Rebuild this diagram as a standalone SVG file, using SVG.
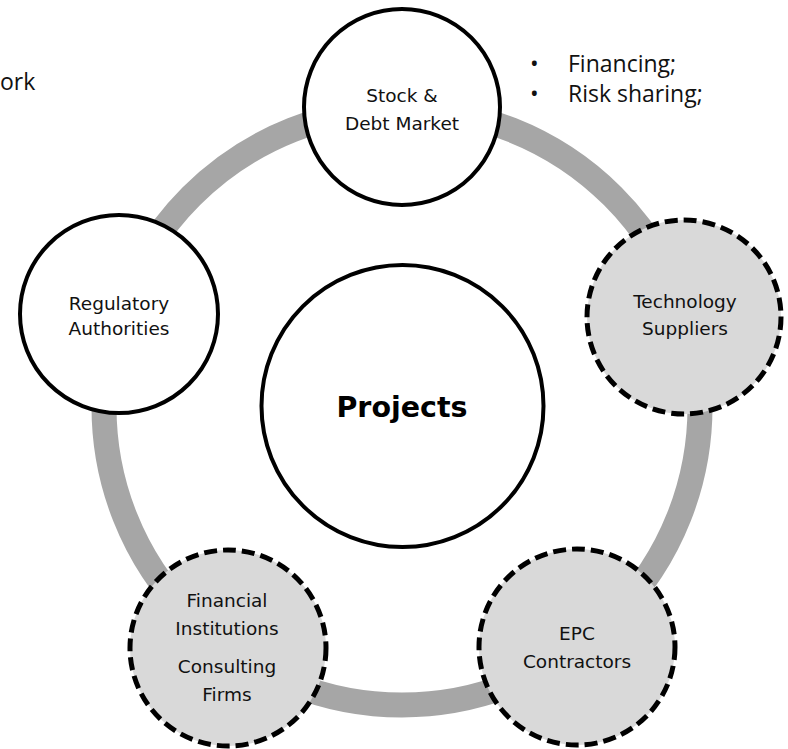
<svg xmlns="http://www.w3.org/2000/svg" width="788" height="749" viewBox="0 0 788 749">
<style>
  .lbl{font-family:"DejaVu Sans","Liberation Sans",sans-serif;font-size:18.5px;fill:#111;text-anchor:middle}
  .note{font-family:"Open Sans","Noto Sans",sans-serif;font-size:23px;fill:#111}
  .solid{fill:#fff;stroke:#000;stroke-width:4}
  .dash{fill:#d9d9d9;stroke:#000;stroke-width:5;stroke-dasharray:13 6}
  .ring{fill:none;stroke:#a6a6a6;stroke-width:25}
</style>
<rect width="788" height="749" fill="#fff"/>
<g id="connectors">
  <circle class="ring" cx="402" cy="407" r="298"/>
</g>
<g id="projects">
  <circle class="solid" cx="402.5" cy="406" r="141" stroke-width="3.5"/>
  <text x="402" y="417" style="font-family:'DejaVu Sans','Liberation Sans',sans-serif;font-size:28.5px;font-weight:bold;text-anchor:middle;fill:#000">Projects</text>
</g>
<g id="stock-debt-market">
  <circle class="solid" cx="402" cy="107" r="98"/>
  <text class="lbl" x="402" y="102">Stock &amp;</text>
  <text class="lbl" x="402" y="130">Debt Market</text>
</g>
<g id="technology-suppliers">
  <circle class="dash" cx="684" cy="317" r="97"/>
  <text class="lbl" x="685" y="308">Technology</text>
  <text class="lbl" x="685" y="335">Suppliers</text>
</g>
<g id="regulatory-authorities">
  <circle class="solid" cx="119" cy="314" r="99"/>
  <text class="lbl" x="119" y="310">Regulatory</text>
  <text class="lbl" x="119" y="335">Authorities</text>
</g>
<g id="financial-institutions">
  <circle class="dash" cx="228" cy="648" r="98"/>
  <text class="lbl" x="227" y="607">Financial</text>
  <text class="lbl" x="227" y="635">Institutions</text>
  <text class="lbl" x="227" y="673">Consulting</text>
  <text class="lbl" x="227" y="701">Firms</text>
</g>
<g id="epc-contractors">
  <circle class="dash" cx="577" cy="647" r="98"/>
  <text class="lbl" x="577" y="640">EPC</text>
  <text class="lbl" x="577" y="668">Contractors</text>
</g>
<g id="notes">
  <text class="note" x="0" y="90">ork</text>
  <text class="note" x="530" y="72">•</text>
  <text class="note" x="568" y="72">Financing;</text>
  <text class="note" x="530" y="102">•</text>
  <text class="note" x="568" y="102">Risk sharing;</text>
</g>
</svg>
